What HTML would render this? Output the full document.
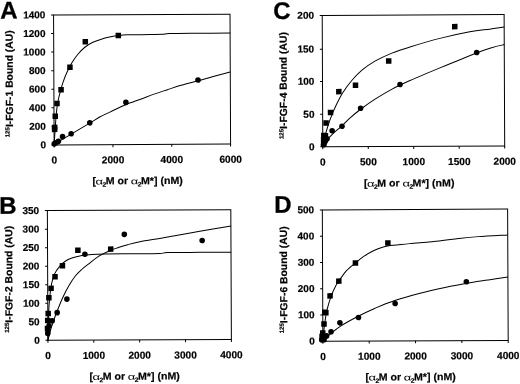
<!DOCTYPE html><html><head><meta charset="utf-8"><title>Figure</title>
<style>html,body{margin:0;padding:0;background:#fff;overflow:hidden;}svg{display:block;will-change:transform;}text{font-family:"Liberation Sans",sans-serif;font-weight:bold;fill:#000;text-rendering:geometricPrecision;stroke:#000;stroke-width:0.2px;}</style></head><body>
<svg width="520" height="384" viewBox="0 0 520 384">
<rect width="520" height="384" fill="#fff"/>
<g transform="rotate(-0.25 142.1 79.5)">
<rect x="53.85" y="14.60" width="176.45" height="129.90" fill="none" stroke="#000" stroke-width="1.00"/>
<line x1="51.35" y1="144.50" x2="53.85" y2="144.50" stroke="#000" stroke-width="1.00"/>
<text transform="translate(45.65,147.80) scale(1.000,1)" font-size="10.00" text-anchor="end">0</text>
<line x1="51.35" y1="125.94" x2="53.85" y2="125.94" stroke="#000" stroke-width="1.00"/>
<text transform="translate(45.65,129.24) scale(1.000,1)" font-size="10.00" text-anchor="end">200</text>
<line x1="51.35" y1="107.39" x2="53.85" y2="107.39" stroke="#000" stroke-width="1.00"/>
<text transform="translate(45.65,110.69) scale(1.000,1)" font-size="10.00" text-anchor="end">400</text>
<line x1="51.35" y1="88.83" x2="53.85" y2="88.83" stroke="#000" stroke-width="1.00"/>
<text transform="translate(45.65,92.13) scale(1.000,1)" font-size="10.00" text-anchor="end">600</text>
<line x1="51.35" y1="70.27" x2="53.85" y2="70.27" stroke="#000" stroke-width="1.00"/>
<text transform="translate(45.65,73.57) scale(1.000,1)" font-size="10.00" text-anchor="end">800</text>
<line x1="51.35" y1="51.71" x2="53.85" y2="51.71" stroke="#000" stroke-width="1.00"/>
<text transform="translate(45.65,55.01) scale(1.000,1)" font-size="10.00" text-anchor="end">1000</text>
<line x1="51.35" y1="33.16" x2="53.85" y2="33.16" stroke="#000" stroke-width="1.00"/>
<text transform="translate(45.65,36.46) scale(1.000,1)" font-size="10.00" text-anchor="end">1200</text>
<line x1="51.35" y1="14.60" x2="53.85" y2="14.60" stroke="#000" stroke-width="1.00"/>
<text transform="translate(45.65,17.90) scale(1.000,1)" font-size="10.00" text-anchor="end">1400</text>
<line x1="53.85" y1="144.50" x2="53.85" y2="147.00" stroke="#000" stroke-width="1.00"/>
<text transform="translate(53.85,163.20) scale(1.000,1)" font-size="10.10" text-anchor="middle">0</text>
<line x1="112.67" y1="144.50" x2="112.67" y2="147.00" stroke="#000" stroke-width="1.00"/>
<text transform="translate(112.67,163.20) scale(1.000,1)" font-size="10.10" text-anchor="middle">2000</text>
<line x1="171.48" y1="144.50" x2="171.48" y2="147.00" stroke="#000" stroke-width="1.00"/>
<text transform="translate(171.48,163.20) scale(1.000,1)" font-size="10.10" text-anchor="middle">4000</text>
<line x1="230.30" y1="144.50" x2="230.30" y2="147.00" stroke="#000" stroke-width="1.00"/>
<text transform="translate(230.30,163.20) scale(1.000,1)" font-size="10.10" text-anchor="middle">6000</text>
<path d="M53.80,144.50 C54.00,141.75 54.63,132.92 55.00,128.00 C55.37,123.08 55.58,119.17 56.00,115.00 C56.42,110.83 56.83,106.83 57.50,103.00 C58.17,99.17 59.08,95.50 60.00,92.00 C60.92,88.50 61.83,85.33 63.00,82.00 C64.17,78.67 65.50,75.25 67.00,72.00 C68.50,68.75 70.17,65.50 72.00,62.50 C73.83,59.50 75.83,56.58 78.00,54.00 C80.17,51.42 82.50,49.00 85.00,47.00 C87.50,45.00 90.00,43.42 93.00,42.00 C96.00,40.58 100.40,39.33 103.00,38.50 C105.60,37.67 106.03,37.50 108.60,37.00 C111.17,36.50 115.17,35.87 118.40,35.50 C121.63,35.13 122.73,34.95 128.00,34.80 C133.27,34.65 144.17,34.67 150.00,34.60 C155.83,34.53 159.67,34.55 163.00,34.40 C166.33,34.25 163.83,33.85 170.00,33.70 C176.17,33.55 189.92,33.55 200.00,33.50 C210.08,33.45 225.42,33.42 230.50,33.40" fill="none" stroke="#000" stroke-width="1.00"/>
<path d="M53.90,144.40 C55.25,143.52 59.15,140.87 62.00,139.10 C64.85,137.33 66.33,136.55 71.00,133.80 C75.67,131.05 85.17,125.47 90.00,122.60 C94.83,119.73 96.08,118.67 100.00,116.60 C103.92,114.53 109.23,112.20 113.50,110.20 C117.77,108.20 121.12,106.43 125.60,104.60 C130.08,102.77 135.68,100.93 140.40,99.20 C145.12,97.47 149.40,95.77 153.90,94.20 C158.40,92.63 162.90,91.25 167.40,89.80 C171.90,88.35 175.73,86.98 180.90,85.50 C186.07,84.02 192.57,82.48 198.40,80.90 C204.23,79.32 210.58,77.43 215.90,76.00 C221.22,74.57 227.90,72.92 230.30,72.30" fill="none" stroke="#000" stroke-width="1.00"/>
<rect x="51.65" y="126.25" width="5.5" height="5.5" fill="#000"/>
<rect x="51.65" y="124.25" width="5.5" height="5.5" fill="#000"/>
<rect x="52.35" y="113.05" width="5.5" height="5.5" fill="#000"/>
<rect x="54.15" y="100.45" width="5.5" height="5.5" fill="#000"/>
<rect x="58.25" y="86.65" width="5.5" height="5.5" fill="#000"/>
<rect x="67.25" y="64.25" width="5.5" height="5.5" fill="#000"/>
<rect x="82.75" y="38.75" width="5.5" height="5.5" fill="#000"/>
<rect x="115.75" y="32.75" width="5.5" height="5.5" fill="#000"/>
<circle cx="54.00" cy="143.50" r="2.8" fill="#000"/>
<circle cx="55.60" cy="142.30" r="2.8" fill="#000"/>
<circle cx="58.10" cy="141.00" r="2.8" fill="#000"/>
<circle cx="62.30" cy="136.30" r="2.8" fill="#000"/>
<circle cx="70.90" cy="133.40" r="2.8" fill="#000"/>
<circle cx="89.60" cy="122.60" r="2.8" fill="#000"/>
<circle cx="125.80" cy="102.30" r="2.8" fill="#000"/>
<circle cx="198.00" cy="80.30" r="2.8" fill="#000"/>
<text x="0.60" y="17.90" font-size="24" style="stroke-width:0.3px">A</text>
<text transform="translate(12.80,83.20) rotate(-90)" font-size="10.3" text-anchor="middle" textLength="107" lengthAdjust="spacing"><tspan font-size="6" dy="-3.6">125</tspan><tspan dy="3.6">I-FGF-1 Bound (AU)</tspan></text>
<g transform="translate(92.00,184.20) scale(1.030,1)"><text y="0" font-size="10.3"><tspan x="0.00">[</tspan><tspan x="9.71" font-size="6.6" dy="2.3">2</tspan><tspan x="12.82" dy="-2.3">M or </tspan><tspan x="43.98" font-size="6.6" dy="2.3">2</tspan><tspan x="47.09" dy="-2.3">M*] (nM)</tspan></text></g>
<text transform="translate(95.00,184.20) scale(1.45,1)" font-size="9.0" font-weight="normal" style="font-weight:normal;stroke:none">α</text>
<text transform="translate(130.30,184.20) scale(1.45,1)" font-size="9.0" font-weight="normal" style="font-weight:normal;stroke:none">α</text>
</g>
<g transform="rotate(-0.25 413.4 80.7)">
<rect x="322.50" y="15.00" width="181.90" height="131.40" fill="none" stroke="#000" stroke-width="1.00"/>
<line x1="320.00" y1="146.40" x2="322.50" y2="146.40" stroke="#000" stroke-width="1.00"/>
<text transform="translate(314.30,149.70) scale(1.000,1)" font-size="10.00" text-anchor="end">0</text>
<line x1="320.00" y1="113.90" x2="322.50" y2="113.90" stroke="#000" stroke-width="1.00"/>
<text transform="translate(314.30,117.20) scale(1.000,1)" font-size="10.00" text-anchor="end">50</text>
<line x1="320.00" y1="81.00" x2="322.50" y2="81.00" stroke="#000" stroke-width="1.00"/>
<text transform="translate(314.30,84.30) scale(1.000,1)" font-size="10.00" text-anchor="end">100</text>
<line x1="320.00" y1="48.80" x2="322.50" y2="48.80" stroke="#000" stroke-width="1.00"/>
<text transform="translate(314.30,52.10) scale(1.000,1)" font-size="10.00" text-anchor="end">150</text>
<line x1="320.00" y1="15.00" x2="322.50" y2="15.00" stroke="#000" stroke-width="1.00"/>
<text transform="translate(314.30,18.30) scale(1.000,1)" font-size="10.00" text-anchor="end">200</text>
<line x1="322.50" y1="146.40" x2="322.50" y2="148.90" stroke="#000" stroke-width="1.00"/>
<text transform="translate(322.50,165.10) scale(1.000,1)" font-size="10.10" text-anchor="middle">0</text>
<line x1="367.98" y1="146.40" x2="367.98" y2="148.90" stroke="#000" stroke-width="1.00"/>
<text transform="translate(367.98,165.10) scale(1.000,1)" font-size="10.10" text-anchor="middle">500</text>
<line x1="413.45" y1="146.40" x2="413.45" y2="148.90" stroke="#000" stroke-width="1.00"/>
<text transform="translate(413.45,165.10) scale(1.000,1)" font-size="10.10" text-anchor="middle">1000</text>
<line x1="458.92" y1="146.40" x2="458.92" y2="148.90" stroke="#000" stroke-width="1.00"/>
<text transform="translate(458.92,165.10) scale(1.000,1)" font-size="10.10" text-anchor="middle">1500</text>
<line x1="504.40" y1="146.40" x2="504.40" y2="148.90" stroke="#000" stroke-width="1.00"/>
<text transform="translate(504.40,165.10) scale(1.000,1)" font-size="10.10" text-anchor="middle">2000</text>
<path d="M322.30,146.40 C322.83,144.17 324.22,137.57 325.50,133.00 C326.78,128.43 328.25,123.67 330.00,119.00 C331.75,114.33 333.83,109.50 336.00,105.00 C338.17,100.50 340.33,96.17 343.00,92.00 C345.67,87.83 348.83,83.67 352.00,80.00 C355.17,76.33 358.17,73.17 362.00,70.00 C365.83,66.83 370.00,63.83 375.00,61.00 C380.00,58.17 386.17,55.33 392.00,53.00 C397.83,50.67 402.00,49.42 410.00,47.00 C418.00,44.58 430.00,41.00 440.00,38.50 C450.00,36.00 461.67,33.50 470.00,32.00 C478.33,30.50 484.25,30.25 490.00,29.50 C495.75,28.75 502.08,27.83 504.50,27.50" fill="none" stroke="#000" stroke-width="1.00"/>
<path d="M322.30,146.40 C323.00,145.33 324.88,142.07 326.50,140.00 C328.12,137.93 329.45,136.42 332.00,134.00 C334.55,131.58 338.80,128.25 341.80,125.50 C344.80,122.75 346.88,120.25 350.00,117.50 C353.12,114.75 356.33,112.08 360.50,109.00 C364.67,105.92 369.75,102.33 375.00,99.00 C380.25,95.67 386.17,92.08 392.00,89.00 C397.83,85.92 402.00,84.00 410.00,80.50 C418.00,77.00 429.00,72.50 440.00,68.00 C451.00,63.50 467.33,56.83 476.00,53.50 C484.67,50.17 487.25,49.42 492.00,48.00 C496.75,46.58 502.42,45.50 504.50,45.00" fill="none" stroke="#000" stroke-width="1.00"/>
<rect x="320.65" y="140.85" width="5.5" height="5.5" fill="#000"/>
<rect x="320.65" y="136.75" width="5.5" height="5.5" fill="#000"/>
<rect x="320.85" y="132.25" width="5.5" height="5.5" fill="#000"/>
<rect x="322.45" y="132.75" width="5.5" height="5.5" fill="#000"/>
<rect x="323.15" y="119.85" width="5.5" height="5.5" fill="#000"/>
<rect x="327.65" y="109.45" width="5.5" height="5.5" fill="#000"/>
<rect x="336.05" y="88.55" width="5.5" height="5.5" fill="#000"/>
<rect x="352.75" y="82.25" width="5.5" height="5.5" fill="#000"/>
<rect x="386.05" y="58.05" width="5.5" height="5.5" fill="#000"/>
<rect x="452.25" y="24.05" width="5.5" height="5.5" fill="#000"/>
<circle cx="323.20" cy="144.30" r="2.8" fill="#000"/>
<circle cx="324.00" cy="142.50" r="2.8" fill="#000"/>
<circle cx="325.00" cy="141.00" r="2.8" fill="#000"/>
<circle cx="326.80" cy="138.30" r="2.8" fill="#000"/>
<circle cx="331.90" cy="130.40" r="2.8" fill="#000"/>
<circle cx="341.80" cy="126.00" r="2.8" fill="#000"/>
<circle cx="360.50" cy="108.00" r="2.8" fill="#000"/>
<circle cx="400.00" cy="84.50" r="2.8" fill="#000"/>
<circle cx="476.80" cy="52.80" r="2.8" fill="#000"/>
<text x="273.65" y="18.30" font-size="24" style="stroke-width:0.3px">C</text>
<text transform="translate(286.80,85.05) rotate(-90)" font-size="10.3" text-anchor="middle" textLength="107" lengthAdjust="spacing"><tspan font-size="6" dy="-3.6">125</tspan><tspan dy="3.6">I-FGF-4 Bound (AU)</tspan></text>
<g transform="translate(363.65,186.50) scale(1.030,1)"><text y="0" font-size="10.3"><tspan x="0.00">[</tspan><tspan x="9.71" font-size="6.6" dy="2.3">2</tspan><tspan x="12.82" dy="-2.3">M or </tspan><tspan x="43.98" font-size="6.6" dy="2.3">2</tspan><tspan x="47.09" dy="-2.3">M*] (nM)</tspan></text></g>
<text transform="translate(366.65,186.50) scale(1.45,1)" font-size="9.0" font-weight="normal" style="font-weight:normal;stroke:none">α</text>
<text transform="translate(401.95,186.50) scale(1.45,1)" font-size="9.0" font-weight="normal" style="font-weight:normal;stroke:none">α</text>
</g>
<g transform="rotate(-0.25 139.4 275.1)">
<rect x="47.65" y="210.20" width="183.45" height="129.75" fill="none" stroke="#000" stroke-width="1.00"/>
<line x1="45.15" y1="339.95" x2="47.65" y2="339.95" stroke="#000" stroke-width="1.00"/>
<text transform="translate(39.45,343.25) scale(1.000,1)" font-size="10.00" text-anchor="end">0</text>
<line x1="45.15" y1="321.41" x2="47.65" y2="321.41" stroke="#000" stroke-width="1.00"/>
<text transform="translate(39.45,324.71) scale(1.000,1)" font-size="10.00" text-anchor="end">50</text>
<line x1="45.15" y1="302.88" x2="47.65" y2="302.88" stroke="#000" stroke-width="1.00"/>
<text transform="translate(39.45,306.18) scale(1.000,1)" font-size="10.00" text-anchor="end">100</text>
<line x1="45.15" y1="284.34" x2="47.65" y2="284.34" stroke="#000" stroke-width="1.00"/>
<text transform="translate(39.45,287.64) scale(1.000,1)" font-size="10.00" text-anchor="end">150</text>
<line x1="45.15" y1="265.81" x2="47.65" y2="265.81" stroke="#000" stroke-width="1.00"/>
<text transform="translate(39.45,269.11) scale(1.000,1)" font-size="10.00" text-anchor="end">200</text>
<line x1="45.15" y1="247.27" x2="47.65" y2="247.27" stroke="#000" stroke-width="1.00"/>
<text transform="translate(39.45,250.57) scale(1.000,1)" font-size="10.00" text-anchor="end">250</text>
<line x1="45.15" y1="228.74" x2="47.65" y2="228.74" stroke="#000" stroke-width="1.00"/>
<text transform="translate(39.45,232.04) scale(1.000,1)" font-size="10.00" text-anchor="end">300</text>
<line x1="45.15" y1="210.20" x2="47.65" y2="210.20" stroke="#000" stroke-width="1.00"/>
<text transform="translate(39.45,213.50) scale(1.000,1)" font-size="10.00" text-anchor="end">350</text>
<line x1="47.65" y1="339.95" x2="47.65" y2="342.45" stroke="#000" stroke-width="1.00"/>
<text transform="translate(47.65,358.65) scale(1.000,1)" font-size="10.10" text-anchor="middle">0</text>
<line x1="93.51" y1="339.95" x2="93.51" y2="342.45" stroke="#000" stroke-width="1.00"/>
<text transform="translate(93.51,358.65) scale(1.000,1)" font-size="10.10" text-anchor="middle">1000</text>
<line x1="139.38" y1="339.95" x2="139.38" y2="342.45" stroke="#000" stroke-width="1.00"/>
<text transform="translate(139.38,358.65) scale(1.000,1)" font-size="10.10" text-anchor="middle">2000</text>
<line x1="185.24" y1="339.95" x2="185.24" y2="342.45" stroke="#000" stroke-width="1.00"/>
<text transform="translate(185.24,358.65) scale(1.000,1)" font-size="10.10" text-anchor="middle">3000</text>
<line x1="231.10" y1="339.95" x2="231.10" y2="342.45" stroke="#000" stroke-width="1.00"/>
<text transform="translate(231.10,358.65) scale(1.000,1)" font-size="10.10" text-anchor="middle">4000</text>
<path d="M47.60,340.30 C47.72,336.08 47.97,322.13 48.30,315.00 C48.63,307.87 49.07,302.75 49.60,297.50 C50.13,292.25 50.67,287.50 51.50,283.50 C52.33,279.50 53.27,276.37 54.60,273.50 C55.93,270.63 57.77,268.35 59.50,266.30 C61.23,264.25 62.92,262.62 65.00,261.20 C67.08,259.78 69.17,258.78 72.00,257.80 C74.83,256.82 78.67,255.90 82.00,255.30 C85.33,254.70 88.17,254.45 92.00,254.20 C95.83,253.95 97.00,253.88 105.00,253.80 C113.00,253.72 130.83,253.73 140.00,253.70 C149.17,253.67 155.33,253.77 160.00,253.60 C164.67,253.43 161.33,252.87 168.00,252.70 C174.67,252.53 189.45,252.62 200.00,252.60 C210.55,252.58 226.08,252.60 231.30,252.60" fill="none" stroke="#000" stroke-width="1.00"/>
<path d="M47.60,340.30 C48.15,338.22 49.73,331.70 50.90,327.80 C52.07,323.90 53.38,320.23 54.60,316.90 C55.82,313.57 56.83,311.13 58.20,307.80 C59.57,304.47 60.98,300.70 62.80,296.90 C64.62,293.10 66.98,288.57 69.10,285.00 C71.22,281.43 73.35,278.17 75.50,275.50 C77.65,272.83 79.78,270.98 82.00,269.00 C84.22,267.02 86.03,265.73 88.80,263.60 C91.57,261.47 95.02,258.42 98.60,256.20 C102.18,253.98 107.05,251.73 110.30,250.30 C113.55,248.87 115.17,248.55 118.10,247.60 C121.03,246.65 124.25,245.57 127.90,244.60 C131.55,243.63 133.82,242.97 140.00,241.80 C146.18,240.63 155.00,239.32 165.00,237.60 C175.00,235.88 188.95,233.35 200.00,231.50 C211.05,229.65 226.08,227.33 231.30,226.50" fill="none" stroke="#000" stroke-width="1.00"/>
<rect x="44.55" y="325.25" width="5.5" height="5.5" fill="#000"/>
<rect x="44.75" y="317.25" width="5.5" height="5.5" fill="#000"/>
<rect x="45.25" y="310.25" width="5.5" height="5.5" fill="#000"/>
<rect x="46.05" y="294.55" width="5.5" height="5.5" fill="#000"/>
<rect x="48.25" y="285.25" width="5.5" height="5.5" fill="#000"/>
<rect x="52.25" y="273.55" width="5.5" height="5.5" fill="#000"/>
<rect x="59.75" y="262.75" width="5.5" height="5.5" fill="#000"/>
<rect x="75.25" y="247.25" width="5.5" height="5.5" fill="#000"/>
<rect x="108.05" y="246.25" width="5.5" height="5.5" fill="#000"/>
<circle cx="47.50" cy="333.00" r="2.8" fill="#000"/>
<circle cx="47.50" cy="329.30" r="2.8" fill="#000"/>
<circle cx="48.80" cy="325.50" r="2.8" fill="#000"/>
<circle cx="52.00" cy="320.50" r="2.8" fill="#000"/>
<circle cx="57.00" cy="312.30" r="2.8" fill="#000"/>
<circle cx="66.80" cy="298.80" r="2.8" fill="#000"/>
<circle cx="85.00" cy="254.00" r="2.8" fill="#000"/>
<circle cx="124.50" cy="234.30" r="2.8" fill="#000"/>
<circle cx="202.30" cy="240.80" r="2.8" fill="#000"/>
<text x="-0.40" y="213.10" font-size="24" style="stroke-width:0.3px">B</text>
<text transform="translate(12.30,278.75) rotate(-90)" font-size="10.3" text-anchor="middle" textLength="107" lengthAdjust="spacing"><tspan font-size="6" dy="-3.6">125</tspan><tspan dy="3.6">I-FGF-2 Bound (AU)</tspan></text>
<g transform="translate(89.05,379.70) scale(1.030,1)"><text y="0" font-size="10.3"><tspan x="0.00">[</tspan><tspan x="9.71" font-size="6.6" dy="2.3">2</tspan><tspan x="12.82" dy="-2.3">M or </tspan><tspan x="43.98" font-size="6.6" dy="2.3">2</tspan><tspan x="47.09" dy="-2.3">M*] (nM)</tspan></text></g>
<text transform="translate(92.05,379.70) scale(1.45,1)" font-size="9.0" font-weight="normal" style="font-weight:normal;stroke:none">α</text>
<text transform="translate(127.35,379.70) scale(1.45,1)" font-size="9.0" font-weight="normal" style="font-weight:normal;stroke:none">α</text>
</g>
<g transform="rotate(-0.25 415.2 275.1)">
<rect x="322.60" y="209.50" width="185.30" height="131.30" fill="none" stroke="#000" stroke-width="1.00"/>
<line x1="320.10" y1="340.80" x2="322.60" y2="340.80" stroke="#000" stroke-width="1.00"/>
<text transform="translate(314.40,344.10) scale(1.000,1)" font-size="10.00" text-anchor="end">0</text>
<line x1="320.10" y1="314.54" x2="322.60" y2="314.54" stroke="#000" stroke-width="1.00"/>
<text transform="translate(314.40,317.84) scale(1.000,1)" font-size="10.00" text-anchor="end">100</text>
<line x1="320.10" y1="288.28" x2="322.60" y2="288.28" stroke="#000" stroke-width="1.00"/>
<text transform="translate(314.40,291.58) scale(1.000,1)" font-size="10.00" text-anchor="end">200</text>
<line x1="320.10" y1="262.02" x2="322.60" y2="262.02" stroke="#000" stroke-width="1.00"/>
<text transform="translate(314.40,265.32) scale(1.000,1)" font-size="10.00" text-anchor="end">300</text>
<line x1="320.10" y1="235.76" x2="322.60" y2="235.76" stroke="#000" stroke-width="1.00"/>
<text transform="translate(314.40,239.06) scale(1.000,1)" font-size="10.00" text-anchor="end">400</text>
<line x1="320.10" y1="209.50" x2="322.60" y2="209.50" stroke="#000" stroke-width="1.00"/>
<text transform="translate(314.40,212.80) scale(1.000,1)" font-size="10.00" text-anchor="end">500</text>
<line x1="322.60" y1="340.80" x2="322.60" y2="343.30" stroke="#000" stroke-width="1.00"/>
<text transform="translate(322.60,359.50) scale(1.000,1)" font-size="10.10" text-anchor="middle">0</text>
<line x1="368.93" y1="340.80" x2="368.93" y2="343.30" stroke="#000" stroke-width="1.00"/>
<text transform="translate(368.93,359.50) scale(1.000,1)" font-size="10.10" text-anchor="middle">1000</text>
<line x1="415.25" y1="340.80" x2="415.25" y2="343.30" stroke="#000" stroke-width="1.00"/>
<text transform="translate(415.25,359.50) scale(1.000,1)" font-size="10.10" text-anchor="middle">2000</text>
<line x1="461.57" y1="340.80" x2="461.57" y2="343.30" stroke="#000" stroke-width="1.00"/>
<text transform="translate(461.57,359.50) scale(1.000,1)" font-size="10.10" text-anchor="middle">3000</text>
<line x1="507.90" y1="340.80" x2="507.90" y2="343.30" stroke="#000" stroke-width="1.00"/>
<text transform="translate(507.90,359.50) scale(1.000,1)" font-size="10.10" text-anchor="middle">4000</text>
<path d="M322.30,340.90 C322.67,337.92 323.72,328.32 324.50,323.00 C325.28,317.68 325.92,313.50 327.00,309.00 C328.08,304.50 329.50,300.00 331.00,296.00 C332.50,292.00 334.57,287.73 336.00,285.00 C337.43,282.27 337.88,282.00 339.60,279.60 C341.32,277.20 343.67,273.40 346.30,270.60 C348.93,267.80 352.48,265.20 355.40,262.80 C358.32,260.40 360.77,258.23 363.80,256.20 C366.83,254.17 370.33,252.17 373.60,250.60 C376.87,249.03 380.63,247.68 383.40,246.80 C386.17,245.92 387.93,245.62 390.20,245.30 C392.47,244.98 393.70,245.18 397.00,244.90 C400.30,244.62 402.95,244.23 410.00,243.60 C417.05,242.97 431.17,241.92 439.30,241.10 C447.43,240.28 452.28,239.40 458.80,238.70 C465.32,238.00 470.20,237.47 478.40,236.90 C486.60,236.33 503.07,235.57 508.00,235.30" fill="none" stroke="#000" stroke-width="1.00"/>
<path d="M322.30,340.90 C323.58,339.72 327.05,336.28 330.00,333.80 C332.95,331.32 335.33,328.97 340.00,326.00 C344.67,323.03 352.17,319.00 358.00,316.00 C363.83,313.00 369.00,310.57 375.00,308.00 C381.00,305.43 386.50,303.07 394.00,300.60 C401.50,298.13 411.50,295.37 420.00,293.20 C428.50,291.03 436.67,289.30 445.00,287.60 C453.33,285.90 462.50,284.27 470.00,283.00 C477.50,281.73 483.67,280.92 490.00,280.00 C496.33,279.08 505.00,277.92 508.00,277.50" fill="none" stroke="#000" stroke-width="1.00"/>
<rect x="319.05" y="333.25" width="5.5" height="5.5" fill="#000"/>
<rect x="319.75" y="329.75" width="5.5" height="5.5" fill="#000"/>
<rect x="321.05" y="320.85" width="5.5" height="5.5" fill="#000"/>
<rect x="321.85" y="309.05" width="5.5" height="5.5" fill="#000"/>
<rect x="322.95" y="309.55" width="5.5" height="5.5" fill="#000"/>
<rect x="327.25" y="292.75" width="5.5" height="5.5" fill="#000"/>
<rect x="336.05" y="278.05" width="5.5" height="5.5" fill="#000"/>
<rect x="352.75" y="260.05" width="5.5" height="5.5" fill="#000"/>
<rect x="385.25" y="240.05" width="5.5" height="5.5" fill="#000"/>
<circle cx="321.50" cy="339.50" r="2.8" fill="#000"/>
<circle cx="323.80" cy="339.30" r="2.8" fill="#000"/>
<circle cx="326.30" cy="335.50" r="2.8" fill="#000"/>
<circle cx="330.80" cy="331.40" r="2.8" fill="#000"/>
<circle cx="339.70" cy="322.50" r="2.8" fill="#000"/>
<circle cx="358.30" cy="317.20" r="2.8" fill="#000"/>
<circle cx="395.00" cy="303.40" r="2.8" fill="#000"/>
<circle cx="466.30" cy="282.00" r="2.8" fill="#000"/>
<text x="274.50" y="212.10" font-size="24" style="stroke-width:0.3px">D</text>
<text transform="translate(287.10,279.30) rotate(-90)" font-size="10.3" text-anchor="middle" textLength="107" lengthAdjust="spacing"><tspan font-size="6" dy="-3.6">125</tspan><tspan dy="3.6">I-FGF-6 Bound (AU)</tspan></text>
<g transform="translate(365.05,380.40) scale(1.030,1)"><text y="0" font-size="10.3"><tspan x="0.00">[</tspan><tspan x="9.71" font-size="6.6" dy="2.3">2</tspan><tspan x="12.82" dy="-2.3">M or </tspan><tspan x="43.98" font-size="6.6" dy="2.3">2</tspan><tspan x="47.09" dy="-2.3">M*] (nM)</tspan></text></g>
<text transform="translate(368.05,380.40) scale(1.45,1)" font-size="9.0" font-weight="normal" style="font-weight:normal;stroke:none">α</text>
<text transform="translate(403.35,380.40) scale(1.45,1)" font-size="9.0" font-weight="normal" style="font-weight:normal;stroke:none">α</text>
</g>
</svg></body></html>
